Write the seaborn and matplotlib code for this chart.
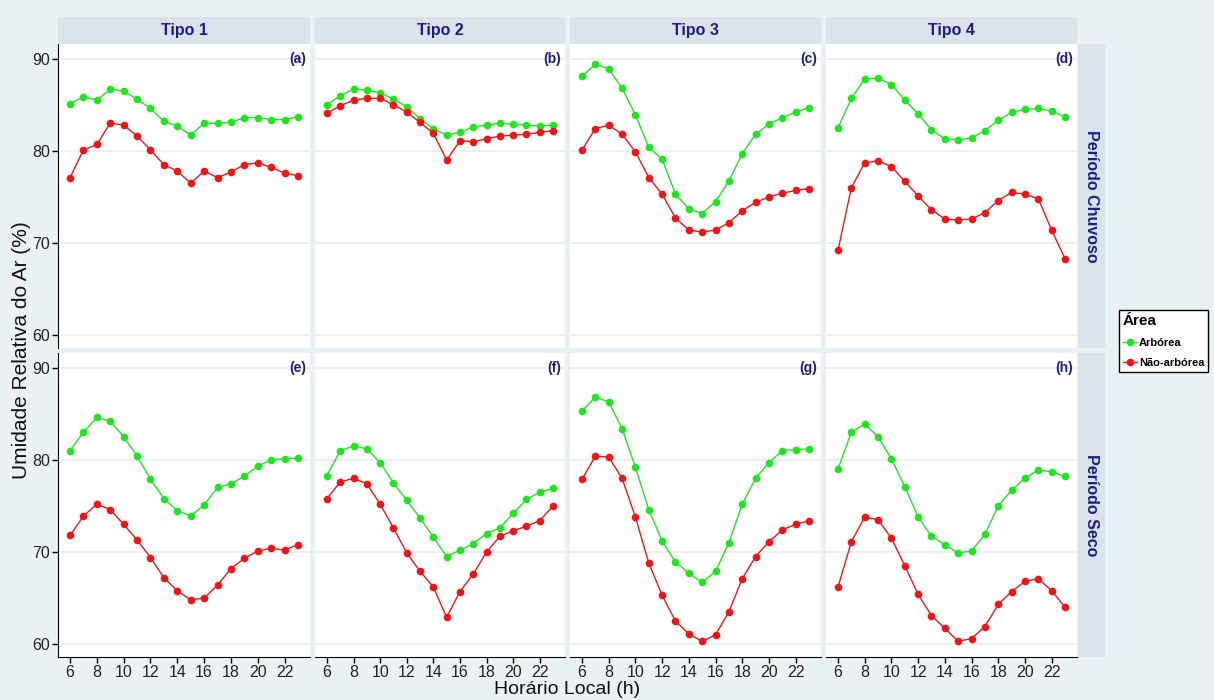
import pandas as pd
import matplotlib.pyplot as plt
import seaborn as sns

horas = list(range(6, 24))
tipos = ['Tipo 1', 'Tipo 2', 'Tipo 3', 'Tipo 4']
periodos = ['Período Chuvoso', 'Período Seco']
areas = ['Arbórea', 'Não-arbórea']
letras = ['(a)', '(b)', '(c)', '(d)', '(e)', '(f)', '(g)', '(h)']

# Periodo chuvoso
arb_chuv = [
    [85.1, 85.9, 85.5, 86.7, 86.5, 85.6, 84.6, 83.2, 82.7, 81.7, 83.0, 83.0, 83.1, 83.6, 83.6, 83.4, 83.4, 83.7],
    [85.0, 86.0, 86.7, 86.6, 86.3, 85.6, 84.8, 83.5, 82.4, 81.7, 82.0, 82.6, 82.8, 83.0, 82.9, 82.8, 82.7, 82.8],
    [88.1, 89.4, 88.9, 86.8, 83.9, 80.4, 79.1, 75.3, 73.7, 73.2, 74.5, 76.7, 79.7, 81.8, 82.9, 83.6, 84.2, 84.7],
    [82.5, 85.7, 87.8, 87.9, 87.2, 85.5, 84.0, 82.3, 81.3, 81.2, 81.4, 82.2, 83.3, 84.2, 84.5, 84.6, 84.3, 83.7],
]
nao_chuv = [
    [77.1, 80.1, 80.7, 83.0, 82.8, 81.6, 80.1, 78.5, 77.8, 76.5, 77.8, 77.1, 77.7, 78.5, 78.7, 78.2, 77.6, 77.3],
    [84.1, 84.9, 85.5, 85.7, 85.7, 85.0, 84.2, 83.1, 81.9, 79.0, 81.1, 81.0, 81.3, 81.6, 81.7, 81.8, 82.0, 82.2],
    [80.1, 82.4, 82.8, 81.8, 79.9, 77.1, 75.3, 72.7, 71.4, 71.2, 71.4, 72.2, 73.5, 74.4, 75.0, 75.4, 75.7, 75.9],
    [69.2, 76.0, 78.7, 78.9, 78.3, 76.7, 75.1, 73.6, 72.6, 72.5, 72.6, 73.3, 74.6, 75.5, 75.3, 74.8, 71.4, 68.3],
]
# Periodo seco
arb_seco = [
    [81.0, 83.0, 84.6, 84.2, 82.5, 80.4, 77.9, 75.8, 74.5, 73.9, 75.1, 77.0, 77.4, 78.2, 79.3, 80.0, 80.1, 80.2],
    [78.3, 81.0, 81.5, 81.2, 79.7, 77.5, 75.6, 73.7, 71.6, 69.5, 70.2, 70.9, 72.0, 72.6, 74.2, 75.7, 76.5, 76.9],
    [85.3, 86.8, 86.3, 83.4, 79.2, 74.6, 71.2, 68.9, 67.7, 66.7, 67.9, 71.0, 75.2, 78.0, 79.7, 81.0, 81.1, 81.2],
    [79.0, 83.0, 83.9, 82.5, 80.1, 77.1, 73.8, 71.7, 70.8, 69.9, 70.1, 71.9, 75.0, 76.7, 78.0, 78.9, 78.7, 78.2],
]
nao_seco = [
    [71.8, 73.9, 75.2, 74.6, 73.0, 71.3, 69.4, 67.2, 65.8, 64.8, 65.0, 66.4, 68.2, 69.3, 70.1, 70.4, 70.2, 70.8],
    [75.8, 77.6, 78.0, 77.4, 75.2, 72.6, 69.9, 67.9, 66.2, 62.9, 65.7, 67.6, 70.0, 71.7, 72.3, 72.8, 73.4, 75.0],
    [77.9, 80.4, 80.3, 78.0, 73.8, 68.8, 65.3, 62.5, 61.1, 60.3, 61.0, 63.5, 67.1, 69.5, 71.1, 72.4, 73.0, 73.4],
    [66.2, 71.1, 73.8, 73.5, 71.5, 68.5, 65.4, 63.1, 61.7, 60.3, 60.6, 61.9, 64.3, 65.7, 66.8, 67.1, 65.8, 64.0],
]

series = {
    ('Período Chuvoso', 'Arbórea'): arb_chuv,
    ('Período Chuvoso', 'Não-arbórea'): nao_chuv,
    ('Período Seco', 'Arbórea'): arb_seco,
    ('Período Seco', 'Não-arbórea'): nao_seco,
}
rows = []
for (per, area), vals in series.items():
    for t, tipo in enumerate(tipos):
        for h, v in zip(horas, vals[t]):
            rows.append({'Hora': h, 'Umidade': v, 'Área': area, 'Tipo': tipo, 'Período': per})
df = pd.DataFrame(rows)

BG = '#eaf1f4'
STRIP = '#d9e4ea'
NAVY = '#1c1c8c'
GRID = '#e8eff1'
cores = {'Arbórea': '#1ee61e', 'Não-arbórea': '#f21414'}

plt.rcParams['font.family'] = ['Liberation Sans', 'DejaVu Sans']

W, H = 1214, 700
fig = plt.figure(figsize=(W / 100, H / 100), dpi=100)
fig.set_facecolor(BG)

def box(x0, y0, x1, y1):
    return [x0 / W, 1 - y1 / H, (x1 - x0) / W, (y1 - y0) / H]

xs = [(58, 310), (315, 565), (570, 821), (826, 1077)]
ys = [(44, 348), (353, 657)]

handles = None
for r, per in enumerate(periodos):
    for c, tipo in enumerate(tipos):
        ax = fig.add_axes(box(xs[c][0], ys[r][0], xs[c][1], ys[r][1]))
        ax.set_facecolor('white')
        sub = df[(df['Período'] == per) & (df['Tipo'] == tipo)]
        sns.lineplot(data=sub, x='Hora', y='Umidade', hue='Área', hue_order=areas,
                     palette=cores, marker='o', markersize=5.5, markeredgewidth=0,
                     linewidth=1, ax=ax, legend=(r == 0 and c == 0))
        if ax.get_legend() is not None:
            handles, labels = ax.get_legend_handles_labels()
            ax.get_legend().remove()
        ax.set_xlim(5.1, 23.9)
        ax.set_ylim(58.6, 91.6)
        ax.set_yticks([60, 70, 80, 90])
        ax.set_xticks(range(6, 24, 2))
        ax.grid(axis='y', color=GRID, linewidth=1.2)
        ax.set_axisbelow(True)
        ax.set_xlabel('')
        ax.set_ylabel('')
        for s in ax.spines.values():
            s.set_visible(False)
        ax.tick_params(direction='out', length=4, width=1, color='black', pad=2,
                       labelsize=11.5, labelcolor='#222222')
        if c == 0:
            ax.spines['left'].set_visible(True)
            ax.spines['left'].set_color('black')
        else:
            ax.tick_params(axis='y', left=False, labelleft=False)
        if r == 1:
            ax.spines['bottom'].set_visible(True)
            ax.spines['bottom'].set_color('black')
        else:
            ax.tick_params(axis='x', bottom=False, labelbottom=False)
        ax.text(0.985, 0.975, letras[r * 4 + c], transform=ax.transAxes, ha='right',
                va='top', fontsize=10, fontweight='bold', color=NAVY)

# tiras superiores
for c, tipo in enumerate(tipos):
    sa = fig.add_axes(box(xs[c][0], 17, xs[c][1], 44))
    sa.set_facecolor(STRIP)
    sa.set_xticks([])
    sa.set_yticks([])
    for s in sa.spines.values():
        s.set_visible(False)
    sa.text(0.5, 0.5, tipo, ha='center', va='center', fontsize=11.5,
            fontweight='bold', color=NAVY, transform=sa.transAxes)

# tiras laterais
for r, per in enumerate(periodos):
    sa = fig.add_axes(box(1078, ys[r][0], 1105, ys[r][1]))
    sa.set_facecolor(STRIP)
    sa.set_xticks([])
    sa.set_yticks([])
    for s in sa.spines.values():
        s.set_visible(False)
    sa.text(0.5, 0.5, per, ha='center', va='center', rotation=-90, fontsize=11.5,
            fontweight='bold', color=NAVY, transform=sa.transAxes)

fig.text(22 / W, 1 - 350 / H, 'Umidade Relativa do Ar (%)', rotation=90,
         ha='center', va='center', fontsize=15, color='#111111')
fig.text(567 / W, 1 - 690 / H, 'Horário Local (h)', ha='center', va='center',
         fontsize=14, color='#111111')

leg = fig.legend(handles, labels, title='Área', loc='upper left',
                 bbox_to_anchor=(1119 / W, 1 - 310 / H), frameon=True,
                 fancybox=False, edgecolor='black', framealpha=1,
                 prop={'size': 8, 'weight': 'bold'}, handlelength=1.3,
                 handletextpad=0.15, borderpad=0.35, borderaxespad=0,
                 labelspacing=0.9, alignment='left')
leg.get_title().set_fontweight('bold')
leg.get_title().set_fontsize(11)
leg.get_frame().set_linewidth(1)

fig.savefig('out.png', dpi=100, facecolor=BG)
